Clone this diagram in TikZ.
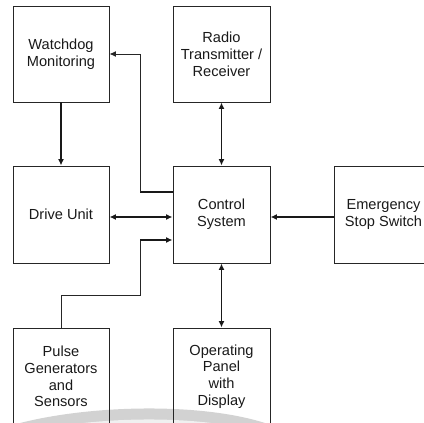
\documentclass[tikz,border=0pt]{standalone}
\usepackage{fontspec}
\setmainfont{Liberation Sans}
\usetikzlibrary{arrows.meta}
\tikzset{
  blk/.style={draw=black!85, line width=0.9pt, rectangle, align=center, inner sep=0pt,
    font=\fontsize{14.6}{16.8}\selectfont, text=black!90},
  thk/.style={line width=1.9pt, draw=black!90},
  thn/.style={line width=1pt, draw=black!85},
  tip/.style={-{Latex[length=6.5pt,width=6pt]}},
  dtip/.style={{Latex[length=6.5pt,width=6pt]}-{Latex[length=6.5pt,width=6pt]}}
}
\begin{document}
\begin{tikzpicture}[x=1pt,y=-1pt]
\useasboundingbox (0,0) rectangle (424,423);
\clip (0,0) rectangle (424,423);
% watermark arc band
\draw[gray!35, line width=12pt] (-5,437) .. controls (70,409) and (220,405) .. (284,437);
\draw[gray!12, line width=6pt] (-5,445) .. controls (70,417) and (220,413) .. (284,445);
% boxes
\node[blk, minimum width=96pt, minimum height=96pt] (wd) at (61,54) {Watchdog\\Monitoring};
\node[blk, minimum width=97pt, minimum height=96pt] (radio) at (221.5,54) {Radio\\Transmitter /\\Receiver};
\node[blk, minimum width=96pt, minimum height=97pt] (drive) at (61,214.5) {Drive Unit};
\node[blk, minimum width=97pt, minimum height=97pt] (ctrl) at (221.5,214.5) {Control\\System};
\node[blk, minimum width=99pt, minimum height=97pt] (estop) at (383.5,214.5) {Emergency\\Stop Switch};
\node[blk, minimum width=96pt, minimum height=97pt] (pulse) at (61,376.5) {Pulse\\Generators\\and\\Sensors};
\node[blk, minimum width=97pt, minimum height=97pt] (panel) at (221.5,376.5) {Operating\\Panel\\with\\Display};
% junctions
\coordinate (j1) at (140,192);
\coordinate (j2) at (140,295);
\coordinate (j3) at (140,240);
% connectors
\draw[thk, tip] (wd.south) -- (drive.north);
\draw[thk, dtip] (radio.south) -- (ctrl.north);
\draw[thk, dtip] (drive.east |- 0,217) -- (ctrl.west |- 0,217);
\draw[thk, tip] (estop.west |- 0,217) -- (ctrl.east |- 0,217);
\draw[thk, dtip] (ctrl.south) -- (panel.north);
\draw[thk] (ctrl.west |- j1) -- (j1);
\draw[thn, tip] (j1) |- (wd.east);
\draw[thn] (pulse.north) |- (j2) -- (j3);
\draw[thk, tip] (j3) -- (ctrl.west |- j3);
\end{tikzpicture}
\end{document}
